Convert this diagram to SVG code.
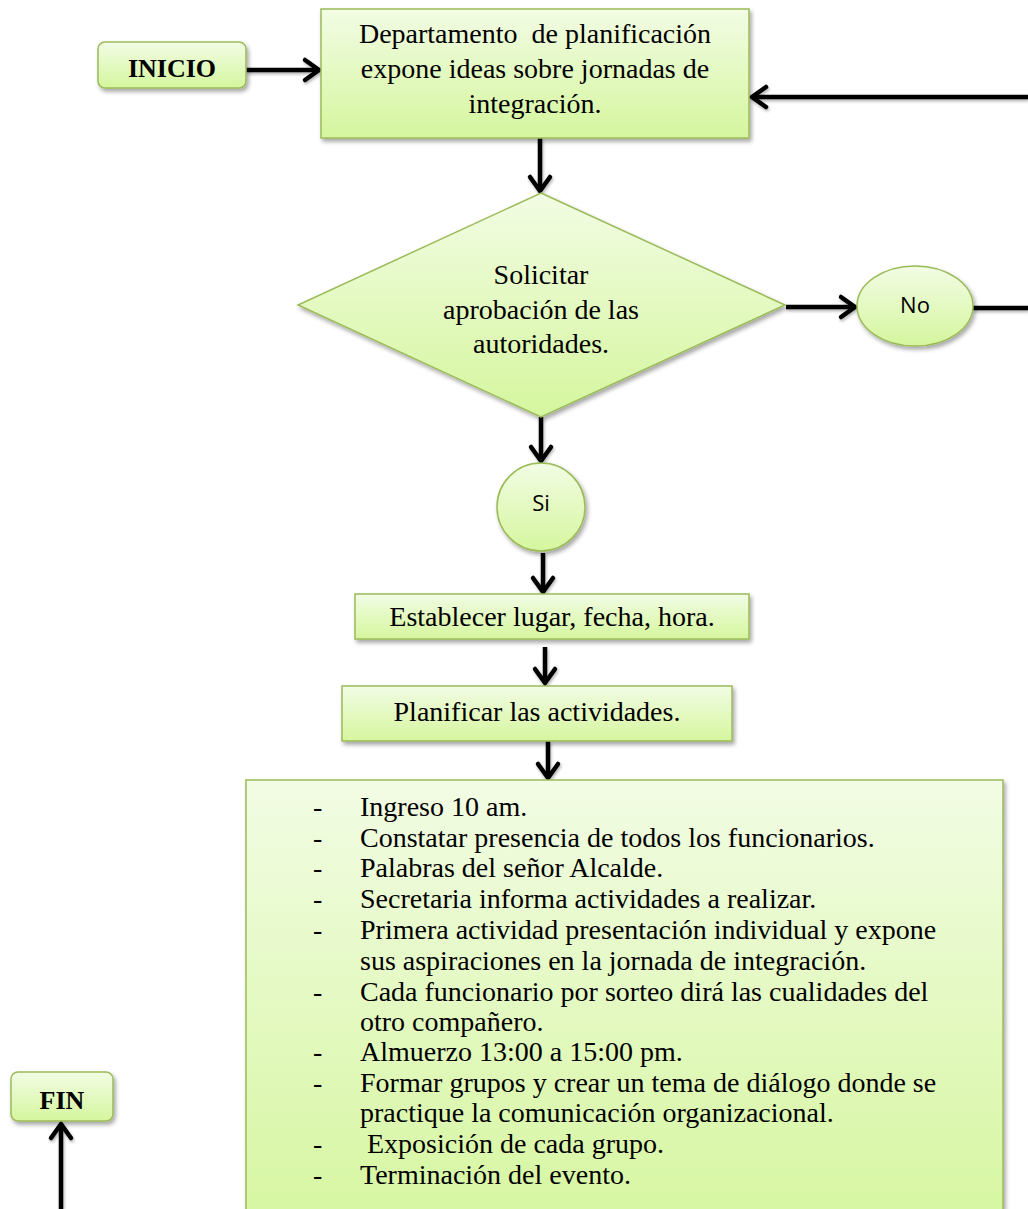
<svg xmlns="http://www.w3.org/2000/svg" width="1028" height="1209" viewBox="0 0 1028 1209">
  <defs>
    <linearGradient id="greenFill" x1="0" y1="0" x2="0" y2="1">
      <stop offset="0" stop-color="#f2fce4"/>
      <stop offset="1" stop-color="#d5f69e"/>
    </linearGradient>
    <filter id="shadow" x="-10%" y="-10%" width="120%" height="130%">
      <feDropShadow dx="2" dy="3" stdDeviation="2" flood-color="#000" flood-opacity="0.35"/>
    </filter>
    <filter id="lineShadow" filterUnits="userSpaceOnUse" x="0" y="0" width="1028" height="1209">
      <feDropShadow dx="1" dy="2" stdDeviation="1.5" flood-color="#000" flood-opacity="0.3"/>
    </filter>
    <marker id="chevron" markerUnits="userSpaceOnUse" viewBox="-18 -14 22 28" markerWidth="22" markerHeight="28" refX="0" refY="0" orient="auto">
      <path d="M-14,-10 L0,0 L-14,10" fill="none" stroke="#000" stroke-width="4.5" stroke-linecap="round" stroke-linejoin="miter"/>
    </marker>
    <style>
      .shape { fill: url(#greenFill); stroke: #9bbb59; stroke-width: 1.5; filter: url(#shadow); }
      .serif { font-family: "Liberation Serif", "Times New Roman", serif; font-size: 28px; fill: #000; }
      .bold { font-family: "Liberation Serif", "Times New Roman", serif; font-size: 26px; font-weight: bold; fill: #000; }
      .sans { font-family: "Open Sans", "Noto Sans", "Liberation Sans", sans-serif; font-size: 22px; fill: #000; }
      .mid { text-anchor: middle; }
      .wire { fill: none; stroke: #000; stroke-width: 4.5; }
      .arrow { marker-end: url(#chevron); }
    </style>
  </defs>

  <rect width="1028" height="1209" fill="#fff"/>

  <!-- connectors -->
  <g id="connectors" filter="url(#lineShadow)">
    <line class="wire arrow" x1="246" y1="70" x2="319" y2="70"/>
    <line class="wire arrow" x1="1028" y1="97" x2="752" y2="97"/>
    <line class="wire arrow" x1="540" y1="138" x2="540" y2="191"/>
    <line class="wire arrow" x1="786" y1="307" x2="855" y2="307"/>
    <line class="wire" x1="973" y1="308" x2="1028" y2="308"/>
    <line class="wire arrow" x1="541" y1="417" x2="541" y2="461"/>
    <line class="wire arrow" x1="543" y1="553" x2="543" y2="592"/>
    <line class="wire arrow" x1="545" y1="647" x2="545" y2="683"/>
    <line class="wire arrow" x1="548" y1="741" x2="548" y2="778"/>
    <line class="wire arrow" x1="61" y1="1209" x2="61" y2="1124"/>
  </g>

  <!-- start -->
  <g id="inicio">
    <rect class="shape" x="98" y="42" width="148" height="46" rx="7"/>
    <text class="bold mid" x="172" y="77">INICIO</text>
  </g>

  <!-- proposal step -->
  <g id="departamento">
    <rect class="shape" x="321" y="9" width="428" height="129"/>
    <text class="serif mid" x="535" y="43" xml:space="preserve">Departamento  de planificación</text>
    <text class="serif mid" x="535" y="78">expone ideas sobre jornadas de</text>
    <text class="serif mid" x="535" y="113">integración.</text>
  </g>

  <!-- decision -->
  <g id="solicitar">
    <polygon class="shape" points="541,193 785,305 541,417 298,305"/>
    <text class="serif mid" x="541" y="284">Solicitar</text>
    <text class="serif mid" x="541" y="319">aprobación de las</text>
    <text class="serif mid" x="541" y="353">autoridades.</text>
  </g>

  <g id="no">
    <ellipse class="shape" cx="915" cy="306" rx="58" ry="40"/>
    <text class="sans mid" x="915" y="313">No</text>
  </g>

  <g id="si">
    <circle class="shape" cx="541" cy="507" r="44"/>
    <text class="sans mid" x="541" y="511">Si</text>
  </g>

  <g id="establecer">
    <rect class="shape" x="355" y="594" width="394" height="45"/>
    <text class="serif mid" x="552" y="626">Establecer lugar, fecha, hora.</text>
  </g>

  <g id="planificar">
    <rect class="shape" x="342" y="686" width="390" height="55"/>
    <text class="serif mid" x="537" y="721">Planificar las actividades.</text>
  </g>

  <!-- activity list -->
  <g id="actividades">
    <rect class="shape" x="246" y="780" width="757" height="460"/>
    <g class="serif">
      <text x="313" y="816">-</text><text x="360" y="816">Ingreso 10 am.</text>
      <text x="313" y="847">-</text><text x="360" y="847">Constatar presencia de todos los funcionarios.</text>
      <text x="313" y="877">-</text><text x="360" y="877">Palabras del señor Alcalde.</text>
      <text x="313" y="908">-</text><text x="360" y="908">Secretaria informa actividades a realizar.</text>
      <text x="313" y="939">-</text><text x="360" y="939">Primera actividad presentación individual y expone</text>
      <text x="360" y="970">sus aspiraciones en la jornada de integración.</text>
      <text x="313" y="1001">-</text><text x="360" y="1001">Cada funcionario por sorteo dirá las cualidades del</text>
      <text x="360" y="1031">otro compañero.</text>
      <text x="313" y="1061">-</text><text x="360" y="1061">Almuerzo 13:00 a 15:00 pm.</text>
      <text x="313" y="1092">-</text><text x="360" y="1092">Formar grupos y crear un tema de diálogo donde se</text>
      <text x="360" y="1122">practique la comunicación organizacional.</text>
      <text x="313" y="1153">-</text><text x="367" y="1153">Exposición de cada grupo.</text>
      <text x="313" y="1184">-</text><text x="360" y="1184">Terminación del evento.</text>
    </g>
  </g>

  <!-- end -->
  <g id="fin">
    <rect class="shape" x="11" y="1072" width="102" height="49" rx="7"/>
    <text class="bold mid" x="62" y="1109">FIN</text>
  </g>
</svg>
